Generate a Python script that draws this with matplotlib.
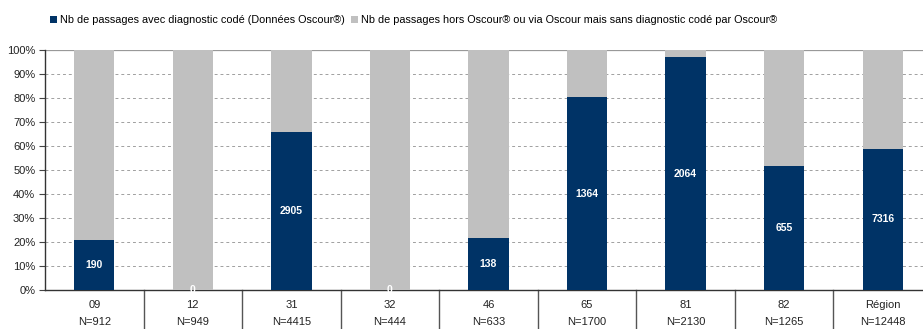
import numpy as np
import matplotlib.pyplot as plt
from matplotlib.patches import Patch
from matplotlib.transforms import blended_transform_factory

plt.rcParams['font.family'] = ['Liberation Sans', 'DejaVu Sans']

# data
categories = ['09', '12', '31', '32', '46', '65', '81', '82', 'Région']
coded = [190, 0, 2905, 0, 138, 1364, 2064, 655, 7316]
totals = [912, 949, 4415, 444, 633, 1700, 2130, 1265, 12448]
legend_labels = ['Nb de passages avec diagnostic codé (Données Oscour®)',
                 'Nb de passages hors Oscour® ou via Oscour mais sans diagnostic codé par Oscour®']

blue = '#003366'
grey = '#C0C0C0'

coded = np.array(coded)
totals = np.array(totals)
pct_coded = coded / totals * 100
pct_other = 100 - pct_coded

fig = plt.figure(figsize=(9.23, 3.29), dpi=100)
ax = fig.add_axes([45 / 923, 39 / 329, 887 / 923, 240 / 329])

x = np.arange(len(categories))
ax.bar(x, pct_coded, width=0.41, color=blue, zorder=3)
ax.bar(x, pct_other, bottom=pct_coded, width=0.41, color=grey, zorder=3)

# value labels inside blue bars
for xi, p, c in zip(x, pct_coded, coded):
    ax.text(xi, p / 2, str(c), ha='center', va='center', color='white',
            fontsize=7.5, fontweight='bold', zorder=4)

ax.set_xlim(-0.5, len(categories) - 0.5)
ax.set_ylim(0, 100)
ax.set_yticks(np.arange(0, 101, 10))
ax.set_yticklabels([f'{v}%' for v in range(0, 101, 10)], fontsize=8, color='#222222')
ax.tick_params(axis='y', length=4, width=0.8, color='#444444', pad=3)
ax.set_xticks([])

# gridlines
for v in range(10, 100, 10):
    ax.axhline(v, color='#a0a0a0', linewidth=0.7, linestyle=(0, (3, 3)), zorder=1)
ax.axhline(100, color='#999999', linewidth=0.9, zorder=1)

for s in ['top', 'right']:
    ax.spines[s].set_visible(False)
ax.spines['left'].set_color('#333333')
ax.spines['bottom'].set_color('#333333')
ax.spines['left'].set_linewidth(1)
ax.spines['bottom'].set_linewidth(1)

# category separators and labels under the axis
trans = blended_transform_factory(ax.transData, ax.transAxes)
for b in np.arange(0.5, len(categories) - 0.5, 1):
    ax.plot([b, b], [0, -0.2], transform=trans, color='#555555', linewidth=1,
            clip_on=False)
for xi, cat, n in zip(x, categories, totals):
    ax.text(xi, -15 / 240, cat, transform=trans, ha='center', va='center',
            fontsize=8, color='#222222')
    ax.text(xi, -32 / 240, f'N={n}', transform=trans, ha='center', va='center',
            fontsize=8, color='#222222')

# legend
handles = [Patch(facecolor=blue), Patch(facecolor=grey)]
fig.legend(handles, legend_labels, loc='center left',
           bbox_to_anchor=(50 / 923, 1 - 20 / 329), ncol=2, frameon=False,
           fontsize=7.8, handlelength=0.6, handleheight=0.6, handletextpad=0.3,
           columnspacing=0.6, borderaxespad=0, borderpad=0)

fig.savefig('out.png', dpi=100)
